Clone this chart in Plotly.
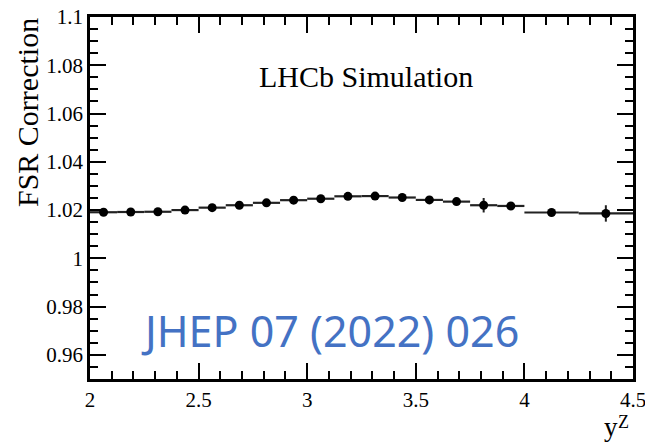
import plotly.graph_objects as go

# FSR correction vs Z rapidity, binned
bin_lo = [2.0, 2.125, 2.25, 2.375, 2.5, 2.625, 2.75, 2.875, 3.0, 3.125,
          3.25, 3.375, 3.5, 3.625, 3.75, 3.875, 4.0, 4.25]
bin_hi = [2.125, 2.25, 2.375, 2.5, 2.625, 2.75, 2.875, 3.0, 3.125, 3.25,
          3.375, 3.5, 3.625, 3.75, 3.875, 4.0, 4.25, 4.5]
fsr = [1.0191, 1.0192, 1.0193, 1.0200, 1.0210, 1.0220, 1.0230, 1.0241,
       1.0247, 1.0257, 1.0258, 1.0252, 1.0242, 1.0235, 1.0220, 1.0217,
       1.0190, 1.0186]
fsr_err = [0.0010, 0.0009, 0.0006, 0.0006, 0.0006, 0.0006, 0.0006, 0.0006,
           0.0006, 0.0006, 0.0006, 0.0006, 0.0006, 0.0014, 0.0030, 0.0008,
           0.0008, 0.0034]

y_ticks = [0.96, 0.98, 1.0, 1.02, 1.04, 1.06, 1.08, 1.1]
y_ticklabels = ["0.96", "0.98", "1", "1.02", "1.04", "1.06", "1.08", "1.1"]
x_ticks = [2, 2.5, 3, 3.5, 4, 4.5]
x_ticklabels = ["2", "2.5", "3", "3.5", "4", "4.5"]

centres = [(a + b) / 2 for a, b in zip(bin_lo, bin_hi)]
half_w = [(b - a) / 2 for a, b in zip(bin_lo, bin_hi)]

serif = "Liberation Serif"

fig = go.Figure()
fig.add_trace(go.Scatter(
    x=centres, y=fsr, mode="markers",
    marker=dict(color="black", size=9, symbol="circle"),
    error_x=dict(type="data", array=half_w, color="#222222", thickness=2.2, width=0),
    error_y=dict(type="data", array=fsr_err, color="#222222", thickness=2, width=0),
    showlegend=False,
))

axis_common = dict(
    showline=True, linecolor="black", linewidth=2.5, mirror="allticks",
    ticks="inside", ticklen=16, tickwidth=2, tickcolor="black",
    showgrid=False, zeroline=False, automargin=False,
    ticklabeloverflow="allow",
    tickfont=dict(family=serif, size=21, color="black"),
)

fig.update_layout(
    width=645, height=442,
    margin=dict(l=90, r=12, t=17, b=63),
    paper_bgcolor="white", plot_bgcolor="white",
    font=dict(family=serif, color="black"),
    xaxis=dict(range=[2, 4.5], tickvals=x_ticks, ticktext=x_ticklabels,
               minor=dict(dtick=0.1, tick0=2, ticks="inside", ticklen=8,
                          tickwidth=2, tickcolor="black"),
               **axis_common),
    yaxis=dict(range=[0.95, 1.1], tickvals=y_ticks, ticktext=y_ticklabels,
               minor=dict(dtick=0.005, tick0=0.95, ticks="inside", ticklen=8,
                          tickwidth=2, tickcolor="black"),
               **axis_common),
    annotations=[
        dict(text="FSR Correction", textangle=-90, xref="paper", yref="paper",
             x=-0.114, y=0.735, xanchor="center", yanchor="middle",
             showarrow=False, font=dict(family=serif, size=30, color="black")),
        # x-axis title: rapidity y with superscript Z
        dict(text="y", xref="paper", yref="paper",
             x=0.9595, y=-0.132, xanchor="center", yanchor="middle",
             showarrow=False, font=dict(family=serif, size=27, color="black")),
        dict(text="Z", xref="paper", yref="paper",
             x=0.9834, y=-0.118, xanchor="center", yanchor="middle",
             showarrow=False, font=dict(family=serif, size=18, color="black")),
        dict(text="LHCb Simulation", xref="paper", yref="paper",
             x=0.508, y=0.837, xanchor="center", yanchor="middle",
             showarrow=False, font=dict(family=serif, size=30, color="black")),
        dict(text="JHEP 07 (2022) 026", xref="paper", yref="paper",
             x=0.442, y=0.135, xanchor="center", yanchor="middle",
             showarrow=False, font=dict(family="Noto Sans", size=43, color="#4472C4")),
    ],
)

fig.write_html("out.html")
